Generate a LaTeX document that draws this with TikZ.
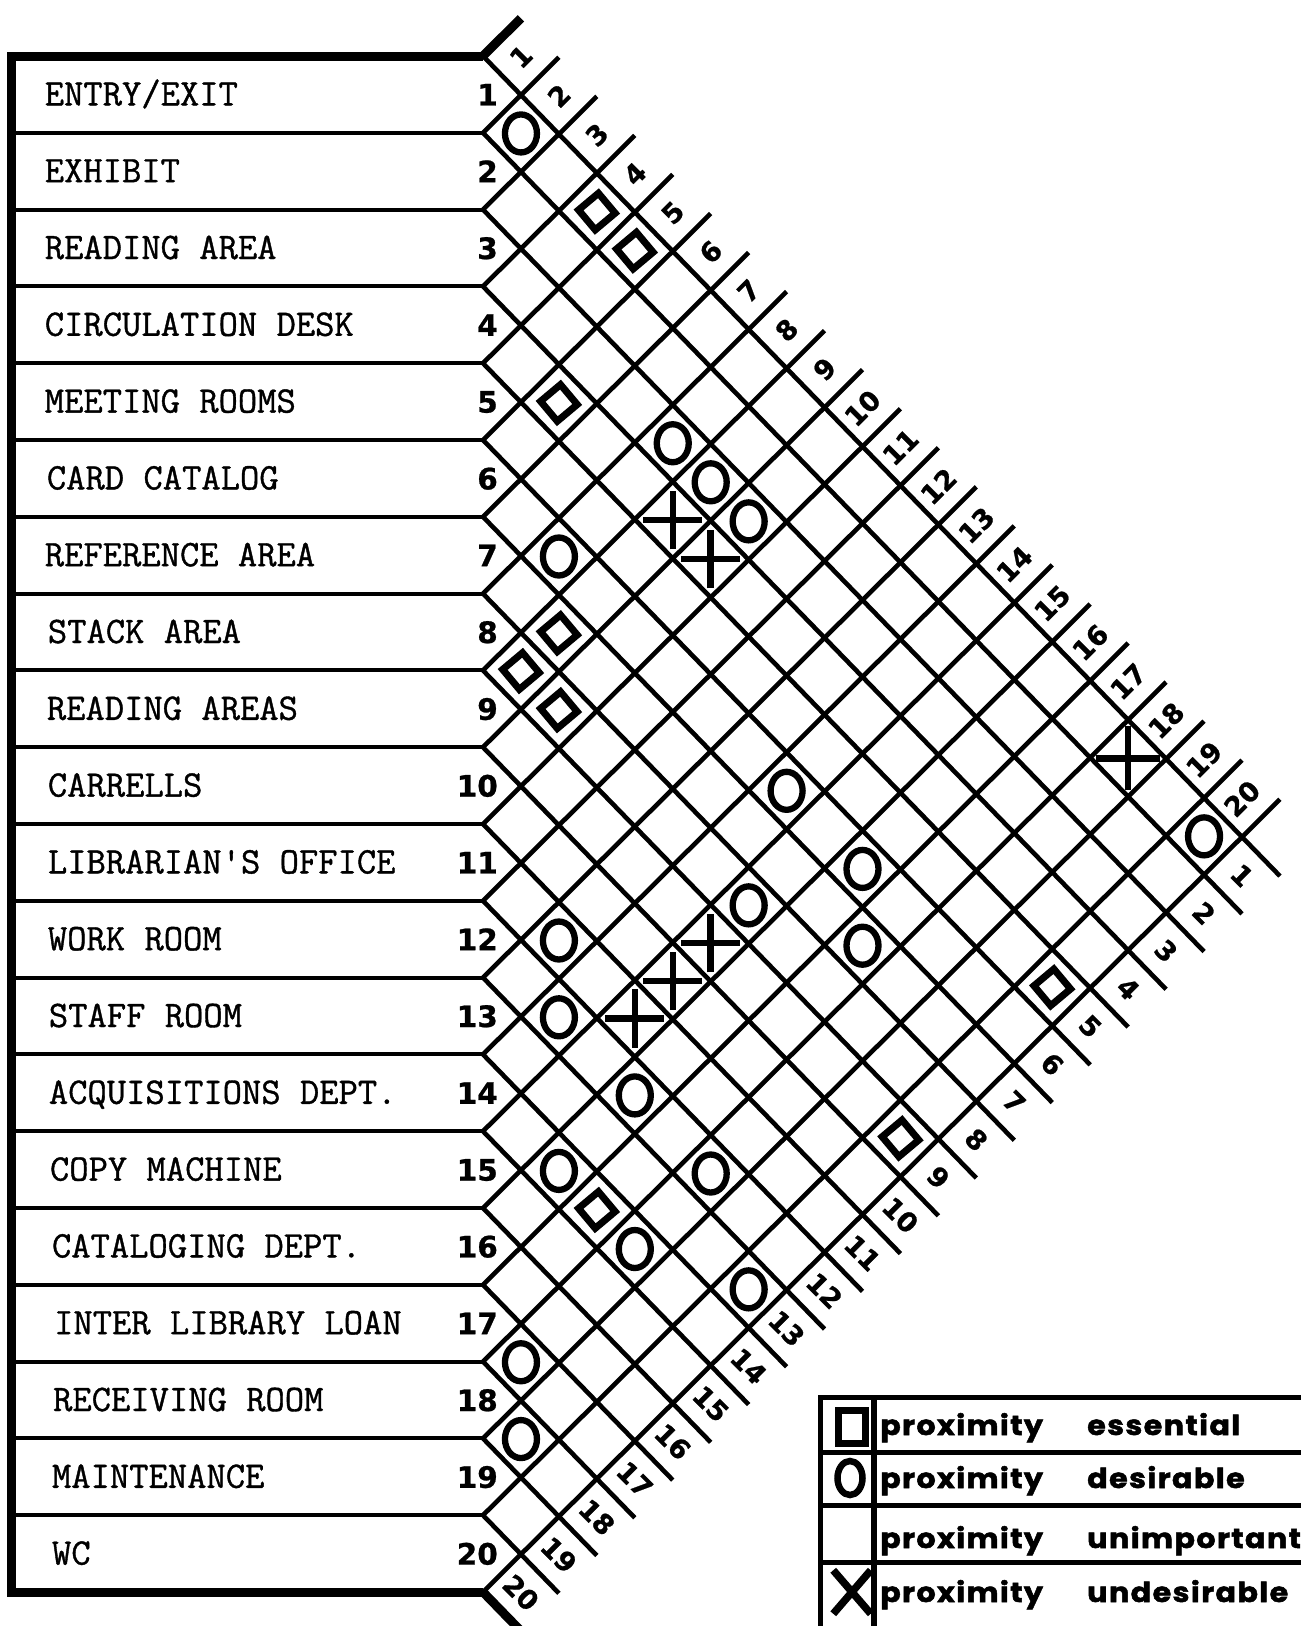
\documentclass[tikz,border=0pt]{standalone}
\usepackage{fontspec}
\newfontfamily\numfont{DejaVu Sans}[FakeBold=0.8]
\newfontfamily\typefont{Latin Modern Mono}[FakeBold=1.0]
\newfontfamily\legfont{Poppins}[FakeStretch=1.1,LetterSpace=5,FakeBold=1.8]
\usetikzlibrary{shapes.geometric,shapes.misc}
\begin{document}
\begin{tikzpicture}[x=1pt,y=-1pt,
  gline/.style={line width=4.6pt},
  sepline/.style={line width=4pt},
  thickb/.style={line width=9pt},
  desir/.style={draw, ellipse, line width=6.3pt, minimum width=32pt, minimum height=38pt, inner sep=0pt},
  essen/.style={draw, rectangle, line width=7pt, minimum size=26pt, rotate=40, inner sep=0pt},
  undes/.style={draw, cross out, line width=6.5pt, minimum size=35pt, rotate=45, inner sep=0pt},
  rowlab/.style={anchor=base west, inner sep=0pt, font=\typefont\fontsize{37.5}{40}\selectfont},
  rownum/.style={anchor=base east, inner sep=0pt, font=\numfont\bfseries\fontsize{29.5}{32}\selectfont},
  snum/.style={inner sep=0pt, font=\numfont\bfseries\fontsize{27}{30}\selectfont},
  legtxt/.style={anchor=base west, inner sep=0pt, font=\legfont\bfseries\fontsize{27.5}{30}\selectfont},
  legline/.style={line width=5pt},
]
\useasboundingbox (0,0) rectangle (1301,1626);
\clip (0,0) rectangle (1301,1626);

% row separators
\foreach \k in {1,...,19}
  \draw[sepline] (14,{56+76.8*\k}) -- (483,{56+76.8*\k});
% outer thick border
\draw[thickb, line join=miter] (483,56) -- (11,56) -- (11,1592) -- (483,1592);

% row labels and numbers
\foreach \k/\txt/\xx in {1/{ENTRY/EXIT}/44.6, 2/{EXHIBIT}/44.6, 3/{READING AREA}/44.6,
  4/{CIRCULATION DESK}/44.6, 5/{MEETING ROOMS}/44.6, 6/{CARD CATALOG}/46.7,
  7/{REFERENCE AREA}/44.6, 8/{STACK AREA}/47.7, 9/{READING AREAS}/46.7,
  10/{CARRELLS}/47.7, 11/{LIBRARIAN'S OFFICE}/47.7, 12/{WORK ROOM}/47.7,
  13/{STAFF ROOM}/48.7, 14/{ACQUISITIONS DEPT.}/48.7, 15/{COPY MACHINE}/49.8,
  16/{CATALOGING DEPT.}/51.8, 17/{INTER LIBRARY LOAN}/53.9, 18/{RECEIVING ROOM}/52.9,
  19/{MAINTENANCE}/51.8, 20/{WC}/51.8}{
  \pgfmathsetmacro\yy{28.6+76.8*\k}
  \node[rowlab] (lab\k) at (\xx,\yy) {\txt};
  \node[rownum] (num\k) at (498,\yy) {\k};
}

% diagonal grid (affine frame: a along down-left, b along down-right)
\begin{scope}[shift={(483pt,-56pt)}, x={(-37.95pt,-37.75pt)}, y={(37.95pt,-39.05pt)}]
  \foreach \k in {0,...,19} \draw[gline] (\k,\k) -- (\k,21);
  \foreach \k in {1,...,20} \draw[gline] (\k,\k) -- (-1,\k);
  \draw[thickb] (0,0) -- (-1,0);
  \draw[thickb] (20,20) -- (20,21);
  % strip labels
  \foreach \k in {1,...,20} {
    \node[snum, rotate=45] (top\k) at (-0.5,{\k-0.5}) {\k};
    \node[snum, rotate=-45] (bot\k) at ({\k-0.5},20.5) {\k};
  }
  % relationships
  \foreach \i/\j in {1/2, 3/8, 3/9, 3/10, 6/8, 6/14, 1/20, 6/16, 8/15, 7/17,
    11/13, 12/14, 12/16, 14/16, 12/18, 14/18, 13/20, 17/18, 18/19}
    \node[desir] (d\i-\j) at ({\i-0.5},{\j-0.5}) {};
  \foreach \i/\j in {1/4, 1/5, 4/6, 7/9, 8/9, 8/10, 5/20, 9/20, 14/17}
    \node[essen] (e\i-\j) at ({\i-0.5},{\j-0.5}) {};
  \foreach \i/\j in {4/9, 4/10, 9/15, 10/15, 11/15}
    \node[undes] (u\i-\j) at ({\i-0.5},{\j-0.5}) {};
  \node[undes, minimum size=39pt] (u1-18) at (0.5,17.5) {};
\end{scope}

% legend
\draw[legline, line join=miter] (820,1640) -- (820,1397) -- (1310,1397);
\draw[legline] (820,1452) -- (1310,1452);
\draw[legline] (820,1505) -- (1310,1505);
\draw[legline] (820,1562) -- (1310,1562);
\draw[line width=6pt] (874,1397) -- (874,1640);
\node[draw, rectangle, line width=6.5pt, minimum width=27pt, minimum height=33pt, inner sep=0pt] (lsq) at (852,1427) {};
\node[draw, ellipse, line width=6.5pt, minimum width=25pt, minimum height=34pt, inner sep=0pt] (lci) at (850,1478) {};
\node[draw, cross out, line width=7.5pt, minimum width=30pt, minimum height=36pt, inner sep=0pt] (lx) at (852,1592) {};
\node[legtxt] (p1) at (880,1435) {proximity};
\node[legtxt] (q1) at (1087,1435) {essential};
\node[legtxt] (p2) at (880,1488) {proximity};
\node[legtxt] (q2) at (1087,1488) {desirable};
\node[legtxt] (p3) at (880,1548) {proximity};
\node[legtxt] (q3) at (1087,1548) {unimportant};
\node[legtxt] (p4) at (880,1602) {proximity};
\node[legtxt] (q4) at (1087,1602) {undesirable};
\end{tikzpicture}
\end{document}
